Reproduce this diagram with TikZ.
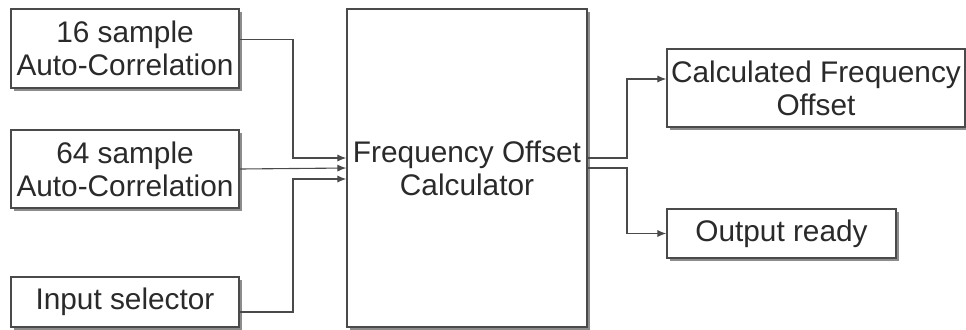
\documentclass[tikz,border=0pt]{standalone}
\usepackage{fontspec}
\setmainfont{Liberation Sans}
\usetikzlibrary{arrows.meta}
\usetikzlibrary{shadows}
\usetikzlibrary{positioning}

\definecolor{linegray}{HTML}{4A4A4A}
\definecolor{textgray}{HTML}{2A2A2A}

\begin{document}
\begin{tikzpicture}[
    x=0.5pt, y=-0.5pt,
    block/.style={draw=linegray, line width=0.7pt, fill=white, align=center, inner sep=0pt,
      text=textgray, font=\fontsize{14.9pt}{16.5pt}\selectfont,
      drop shadow={shadow xshift=1.7pt, shadow yshift=-1.7pt, fill=gray!90, opacity=1}},
    link/.style={draw=linegray, line width=0.55pt, -{Latex[length=4.5pt,width=3.6pt]}}
  ]
    \useasboundingbox (0,0) rectangle (966,329);

    % inputs
    \node[block, minimum width=114pt, minimum height=39.5pt] (acf16) at (125,48.5) {16 sample\\Auto-Correlation};
    \node[block, minimum width=114pt, minimum height=39pt] (acf64) at (125,169) {64 sample\\Auto-Correlation};
    \node[block, minimum width=114pt, minimum height=25pt] (insel) at (125,302) {Input selector};

    % calculator
    \node[block, minimum width=120pt, minimum height=159pt] (calc) at (467,168) {Frequency Offset\\Calculator};

    % outputs
    \node[block, minimum width=149pt, minimum height=39pt] (offset) at (816,88) {Calculated Frequency\\Offset};
    \node[block, minimum width=114.5pt, minimum height=24.5pt] (ready) at (781.5,233.5) {Output ready};

    \coordinate (inbend) at (293,0);
    \coordinate (outbend) at (627,0);

    \draw[link] ([yshift=4.3pt]acf16.east) -| (inbend |- 0,158) -- ([yshift=5pt]calc.west);
    \draw[link] (acf64.east) -- ([yshift=0pt]calc.west);
    \draw[link] ([yshift=-5pt]insel.east) -| (inbend |- 0,179) -- ([yshift=-5.5pt]calc.west);

    \draw[link] ([yshift=5pt]calc.east) -| (outbend |- 0,79) -- (offset.west |- 0,79);
    \draw[link] (calc.east) -| (outbend |- ready.west) -- (ready.west);
  \end{tikzpicture}
\end{document}
